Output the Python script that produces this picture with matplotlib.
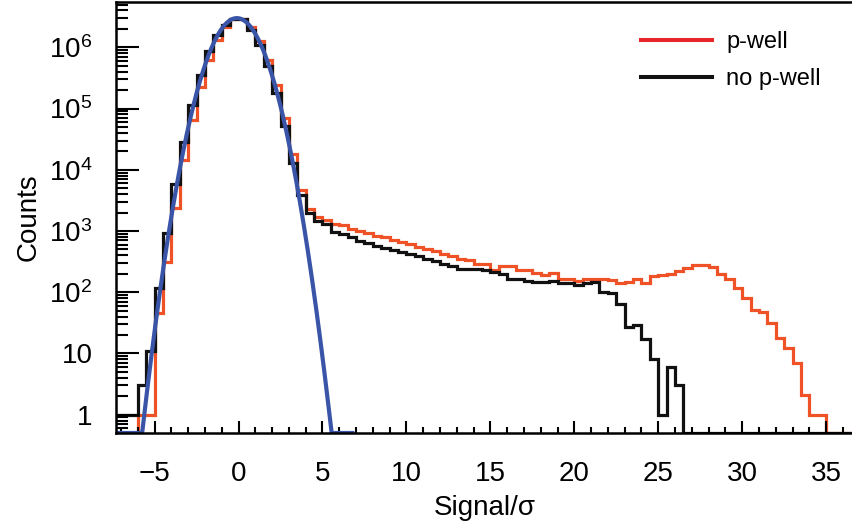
import numpy as np
import matplotlib
matplotlib.use("Agg")
import matplotlib.pyplot as plt
from matplotlib.lines import Line2D
from matplotlib.ticker import FixedLocator, MultipleLocator, LogLocator, FuncFormatter, NullFormatter

plt.rcParams['font.family'] = ['Liberation Sans', 'DejaVu Sans']
plt.rcParams['mathtext.fontset'] = 'custom'
plt.rcParams['mathtext.rm'] = 'Liberation Sans'

# histogram binning (0.5 wide bins, first bin starts at -7.5)
bin_start = -7.5
bin_width = 0.5

# counts per bin
no_pwell = [1, 1, 1, 3, 11, 119, 930, 5800, 28600, 113000,
            347000, 873000, 1.59e6, 2.31e6, 2.9e6, 2.9e6, 1.92e6, 1.1e6, 5.0e5, 1.79e5,
            5.1e4, 1.3e4, 3900, 2000, 1450, 1300, 977, 896, 789, 677,
            630, 578, 530, 491, 450, 413, 383, 351, 321, 291,
            263, 240, 238, 235, 232, 213, 200, 162, 162, 152,
            147, 147, 152, 141, 141, 129, 141, 147, 101, 97,
            65, 27, 29, 17, 8, 1, 6, 3, 0, 0,
            0, 0, 0, 0, 0, 0, 0, 0, 0, 0,
            0, 0, 0, 0, 0, 0, 0, 0, 0]

pwell = [0, 0, 0, 1, 1, 45, 310, 2370, 14300, 66000,
         229000, 624000, 1.32e6, 2.17e6, 2.85e6, 2.9e6, 2.17e6, 1.27e6, 6.2e5, 2.45e5,
         6.9e4, 1.79e4, 4700, 2290, 1670, 1510, 1300, 1250, 1075, 1010,
         916, 840, 788, 716, 671, 616, 557, 504, 462, 424,
         383, 350, 339, 291, 291, 227, 267, 267, 233, 233,
         205, 193, 205, 166, 166, 152, 166, 166, 166, 156,
         143, 147, 162, 141, 183, 193, 200, 221, 247, 281,
         277, 257, 200, 166, 117, 80, 51, 48, 31, 17.6,
         12.1, 6.9, 2.06, 1, 1, 0, 0, 0, 0]

# gaussian fit to the noise peak
fit_amp = 3.0e6
fit_mean = -0.1
fit_sigma = 1.01
fit_range = (-7.3, 6.9)

x_ticks = [-5, 0, 5, 10, 15, 20, 25, 30, 35]
y_ticks = [1, 10, 1e2, 1e3, 1e4, 1e5, 1e6]
y_min, y_max = 0.5, 5.5e6

edges = bin_start + bin_width * np.arange(len(no_pwell) + 1)

fig = plt.figure(figsize=(8.53, 5.27), dpi=100)
ax = fig.add_axes([116 / 853, 1 - 433 / 527, 1 - 116 / 853, (433 - 2) / 527])

ax.stairs(np.clip(pwell, y_min, None), edges, baseline=y_min, color='#f05228', lw=2.3)
ax.stairs(np.clip(no_pwell, y_min, None), edges, baseline=y_min, color='#111111', lw=2.3)

xf = np.linspace(fit_range[0], fit_range[1], 400)
yf = fit_amp * np.exp(-0.5 * ((xf - fit_mean) / fit_sigma) ** 2)
ax.plot(xf, np.clip(yf, y_min, None), color='#3a55a8', lw=3.0, solid_capstyle='butt')

ax.set_yscale('log')
ax.set_xlim(-7.3, 36.6)
ax.set_ylim(y_min, y_max)

ax.xaxis.set_major_locator(FixedLocator(x_ticks))
ax.xaxis.set_minor_locator(MultipleLocator(1))
ax.yaxis.set_major_locator(FixedLocator(y_ticks))
ax.yaxis.set_minor_locator(LogLocator(base=10, subs=np.arange(2, 10), numticks=30))
ax.yaxis.set_minor_formatter(NullFormatter())


def fmt_y(v, pos):
    if v < 100:
        return '%d' % round(v)
    return r'$\mathregular{10^{%d}}$' % round(np.log10(v))


ax.yaxis.set_major_formatter(FuncFormatter(fmt_y))

ax.tick_params(axis='x', which='major', direction='in', length=8.6, width=1.5, labelsize=20, pad=20)
ax.tick_params(axis='x', which='minor', direction='in', length=4.3, width=1.5)
ax.tick_params(axis='y', which='major', direction='in', length=16.5, width=1.5, labelsize=20, pad=17)
ax.tick_params(axis='y', which='minor', direction='in', length=8.6, width=1.5)

for side in ['left', 'bottom', 'top']:
    ax.spines[side].set_linewidth(1.8)
ax.spines['right'].set_visible(False)

ax.set_xlabel('Signal/σ', fontsize=20, labelpad=6)
ax.set_ylabel('Counts', fontsize=20, labelpad=5)

handles = [Line2D([], [], color='#e8262a', lw=2.9), Line2D([], [], color='#111111', lw=2.9)]
ax.legend(handles, ['p-well', 'no p-well'], loc='upper left', frameon=False, fontsize=17,
          bbox_to_anchor=(641 / 853, 1 - 31 / 527), bbox_transform=fig.transFigure,
          borderpad=0, borderaxespad=0, handlelength=3.0, handletextpad=0.6, labelspacing=0.65)

fig.savefig('out.png', dpi=100)
